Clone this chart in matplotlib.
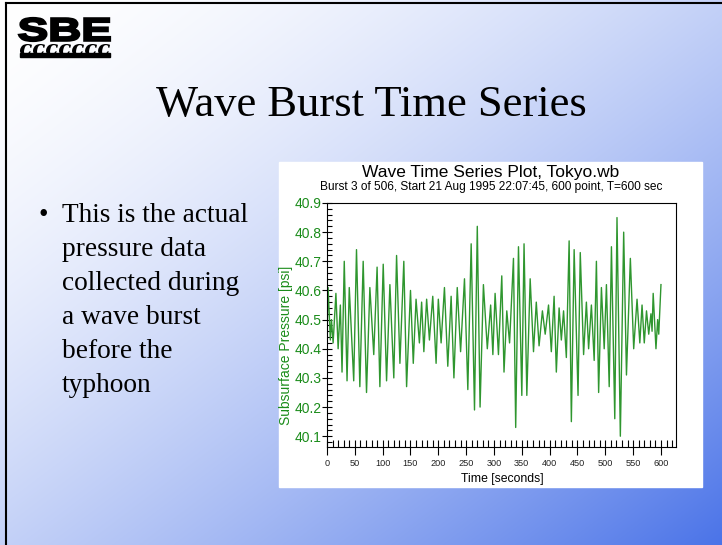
import numpy as np
import matplotlib.pyplot as plt
from matplotlib.textpath import TextPath
from matplotlib.patches import PathPatch, Rectangle
from matplotlib.font_manager import FontProperties
from matplotlib.transforms import Affine2D
from matplotlib.ticker import MultipleLocator, FormatStrFormatter

# wave burst, peaks and troughs
time_s = [0, 2, 6, 8, 11, 16, 20, 24, 27, 31, 36, 40, 48, 53, 59, 65, 71, 77, 84, 90,
          95, 101, 107, 113, 120, 125, 131, 138, 143, 150, 155, 160, 166, 170, 174, 179,
          184, 190, 196, 200, 205, 211, 217, 223, 228, 234, 240, 247, 253, 259, 265, 270,
          275, 281, 288, 294, 298, 302, 308, 314, 318, 323, 328, 335, 339, 344, 350, 354,
          359, 365, 371, 376, 381, 387, 392, 398, 403, 408, 412, 417, 421, 425, 430, 435,
          439, 444, 451, 455, 461, 466, 470, 475, 480, 484, 488, 493, 498, 502, 507, 511,
          517, 521, 527, 533, 538, 545, 551, 557, 562, 566, 570, 574, 578, 582, 584, 586,
          591, 594, 596, 600]
pressure_psi = [40.45, 40.61, 40.43, 40.50, 40.42, 40.59, 40.40, 40.55, 40.32, 40.70,
                40.29, 40.61, 40.29, 40.74, 40.27, 40.70, 40.25, 40.61, 40.38, 40.68,
                40.27, 40.69, 40.29, 40.62, 40.30, 40.72, 40.35, 40.70, 40.27, 40.60,
                40.35, 40.57, 40.42, 40.56, 40.39, 40.57, 40.43, 40.58, 40.35, 40.57,
                40.42, 40.61, 40.34, 40.58, 40.30, 40.61, 40.39, 40.64, 40.26, 40.76,
                40.19, 40.82, 40.20, 40.62, 40.40, 40.55, 40.38, 40.59, 40.38, 40.65,
                40.32, 40.53, 40.42, 40.71, 40.13, 40.75, 40.24, 40.76, 40.24, 40.64,
                40.39, 40.56, 40.41, 40.53, 40.45, 40.55, 40.39, 40.58, 40.32, 40.54,
                40.43, 40.53, 40.37, 40.77, 40.15, 40.74, 40.24, 40.73, 40.38, 40.56,
                40.40, 40.55, 40.36, 40.70, 40.25, 40.61, 40.40, 40.62, 40.27, 40.75,
                40.16, 40.85, 40.10, 40.80, 40.31, 40.71, 40.40, 40.57, 40.42, 40.55,
                40.42, 40.53, 40.45, 40.52, 40.46, 40.59, 40.40, 40.50, 40.45, 40.62]
x_ticks = [0, 50, 100, 150, 200, 250, 300, 350, 400, 450, 500, 550, 600]
y_ticks = [40.1, 40.2, 40.3, 40.4, 40.5, 40.6, 40.7, 40.8, 40.9]

bullet_lines = ['This is the actual', 'pressure data', 'collected during',
                'a wave burst', 'before the', 'typhoon']

W, H = 722, 545
green = '#1a8c1a'
fig = plt.figure(figsize=(W / 100, H / 100), dpi=100)

# slide background, pixel coordinates with y going down
bg = fig.add_axes([0, 0, 1, 1])
bg.set_xlim(0, W)
bg.set_ylim(H, 0)
bg.axis('off')
yy, xx = np.mgrid[0:H, 0:W]
t = ((xx / W + yy / H) / 2) ** 1.6
c1 = np.array([0x4a, 0x73, 0xe8]) / 255
img = (1 - t[..., None]) + c1 * t[..., None]
bg.imshow(img, extent=(0, W, H, 0), aspect='auto', zorder=0)
bg.plot([6, 6], [3, H], color='black', lw=1.5, zorder=1)
bg.plot([6, W], [3, 3], color='black', lw=1.5, zorder=1)


def fit_text(s, box, prop, lw=0):
    tp = TextPath((0, 0), s, size=100, prop=prop)
    bb = tp.get_extents()
    x0, y0, x1, y1 = box
    tr = (Affine2D().translate(-bb.x0, -bb.y0)
          .scale((x1 - x0) / bb.width, -(y1 - y0) / bb.height)
          .translate(x0, y1) + bg.transData)
    bg.add_patch(PathPatch(tp, transform=tr, facecolor='black', edgecolor='black',
                           lw=lw, zorder=2))


# SBE logo
fit_text('SBE', (19, 18, 110, 41), FontProperties(family='Liberation Sans', weight='bold'),
         lw=1.6)
fit_text('ccccccc', (20, 44, 110, 55),
         FontProperties(family='DejaVu Serif', weight='bold', style='italic'))
bg.add_patch(Rectangle((20, 53), 90, 4, color='black', zorder=2))

bg.text(371, 116, 'Wave Burst Time Series', family='Liberation Serif', fontsize=32,
        ha='center', va='baseline', zorder=2)

bg.text(38, 222, '\u2022', family='Liberation Serif', fontsize=19.7, va='baseline', zorder=2)
for i, line in enumerate(bullet_lines):
    bg.text(62, 222 + 34 * i, line, family='Liberation Serif', fontsize=19.7,
            va='baseline', zorder=2)

# chart panel
bg.add_patch(Rectangle((279, 162), 423, 325, color='white', zorder=2))
bg.text(491, 172, 'Wave Time Series Plot, Tokyo.wb', family='Liberation Sans',
        fontsize=12.5, ha='center', va='center', zorder=3)
bg.text(491, 187, 'Burst 3 of 506, Start 21 Aug 1995 22:07:45, 600 point, T=600 sec',
        family='Liberation Sans', fontsize=8.6, ha='center', va='center', zorder=3)
bg.text(286, 345, 'Subsurface Pressure [psi]', family='Liberation Sans', fontsize=10,
        color=green, rotation=90, ha='center', va='center', zorder=3)
bg.text(502, 479, 'Time [seconds]', family='Liberation Sans', fontsize=8.8,
        ha='center', va='center', zorder=3)

ax = fig.add_axes([327 / W, 1 - 447 / H, (676 - 327) / W, (447 - 203) / H])
ax.plot(time_s, pressure_psi, color='#2f962f', lw=1.0)
ax.set_xlim(0, 627)
ax.set_ylim(40.063, 40.9)
ax.set_xticks(x_ticks)
ax.set_yticks(y_ticks)
ax.yaxis.set_major_formatter(FormatStrFormatter('%.1f'))
ax.xaxis.set_minor_locator(MultipleLocator(10))
ax.yaxis.set_minor_locator(MultipleLocator(0.02))
ax.tick_params(axis='x', which='major', direction='inout', length=10.8, width=0.8,
               pad=3.5, labelsize=6.6, labelcolor='#222222')
ax.tick_params(axis='x', which='minor', direction='in', length=4.8, width=0.8)
ax.tick_params(axis='y', which='major', direction='inout', length=7.2, width=0.8,
               pad=0.5, labelsize=10, labelcolor=green)
ax.tick_params(axis='y', which='minor', direction='in', length=3.6, width=0.8)
for lab in ax.get_xticklabels() + ax.get_yticklabels():
    lab.set_family('Liberation Sans')
for sp in ax.spines.values():
    sp.set_linewidth(0.8)

fig.savefig('out.png', dpi=100)
